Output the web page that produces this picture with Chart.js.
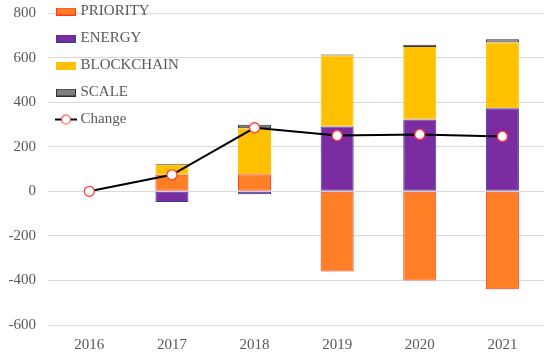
<!DOCTYPE html>
<html>
<head>
<meta charset="utf-8">
<script src="https://cdn.jsdelivr.net/npm/chart.js@4"></script>
<style>
  body { margin: 0; background: #fff; }
  #wrap { width: 550px; height: 356px; position: relative; }
</style>
</head>
<body>
<div id="wrap"><canvas id="chart"></canvas></div>
<script>
const years = ["2016", "2017", "2018", "2019", "2020", "2021"];
const priority = [null, 74, 77, -360, -400, -440];
const energy = [null, -48, -13, 291, 322, 373];
const blockchain = [null, 45, 206, 318, 325, 295];
const scaleVals = [null, 3, 15, 5, 10, 14];
const change = [0, 74, 285, 250, 255, 246];
const yTicks = [-600, -400, -200, 0, 200, 400, 600, 800];

const FONT = "Liberation Serif";
const TEXT = "#595959";
Chart.defaults.font.family = FONT;
Chart.defaults.font.size = 15;
Chart.defaults.color = TEXT;

// small canvases used as legend markers
function boxMarker(fill, stroke) {
  const c = document.createElement("canvas");
  c.width = 20; c.height = 8;
  const ctx = c.getContext("2d");
  ctx.fillStyle = fill;
  ctx.fillRect(0, 0, 20, 8);
  ctx.strokeStyle = stroke;
  ctx.lineWidth = 1;
  ctx.strokeRect(0.5, 0.5, 19, 7);
  return c;
}
function lineMarker() {
  const c = document.createElement("canvas");
  c.width = 22; c.height = 12;
  const ctx = c.getContext("2d");
  ctx.strokeStyle = "#000";
  ctx.lineWidth = 2;
  ctx.beginPath(); ctx.moveTo(0, 6); ctx.lineTo(22, 6); ctx.stroke();
  ctx.beginPath(); ctx.arc(11, 6, 4.5, 0, Math.PI * 2);
  ctx.fillStyle = "#fff"; ctx.fill();
  ctx.strokeStyle = "#ff4040"; ctx.lineWidth = 1.2; ctx.stroke();
  return c;
}
const markers = [
  boxMarker("#ff7f27", "#ff3b1f"),
  boxMarker("#7a2ca0", "#34409a"),
  boxMarker("#ffc000", "#ffc000"),
  boxMarker("#7f7f7f", "#303030"),
  lineMarker()
];

// put the legend at the top-left corner of the plot, first row above it
const legendPlace = {
  id: "legendPlace",
  afterLayout(chart) {
    const l = chart.legend;
    if (!l) return;
    const h = l.bottom - l.top;
    l.left = chart.chartArea.left - 1;
    l.top = -8;
    l.bottom = l.top + h;
  }
};

function bar(label, data, fill, border) {
  return {
    type: "bar", label: label, data: data,
    backgroundColor: fill, borderColor: border, borderWidth: 1,
    borderSkipped: false, barPercentage: 0.4, categoryPercentage: 1,
    order: 1
  };
}

new Chart(document.getElementById("chart"), {
  data: {
    labels: years,
    datasets: [
      bar("PRIORITY", priority, "#ff7f27", "#ff3b1f"),
      bar("ENERGY", energy, "#7a2ca0", "#34409a"),
      bar("BLOCKCHAIN", blockchain, "#ffc000", "#ffc000"),
      bar("SCALE", scaleVals, "#7f7f7f", "#303030"),
      {
        type: "line", label: "Change", data: change, stack: "change",
        borderColor: "#000", borderWidth: 2, tension: 0,
        pointRadius: 5, pointBorderWidth: 1.3,
        pointBackgroundColor: "#fff", pointBorderColor: "#ff4040",
        order: 0
      }
    ]
  },
  options: {
    responsive: true,
    maintainAspectRatio: false,
    animation: false,
    layout: { padding: { left: 7, right: 5, top: 0, bottom: 1 } },
    plugins: {
      tooltip: { enabled: false },
      legend: {
        position: "chartArea",
        align: "start",
        labels: {
          usePointStyle: true,
          pointStyleWidth: 14,
          padding: 12,
          color: TEXT,
          font: { family: FONT, size: 15 },
          sort: (a, b) => a.datasetIndex - b.datasetIndex,
          generateLabels(chart) {
            const items = Chart.defaults.plugins.legend.labels.generateLabels(chart);
            items.forEach((it) => { it.pointStyle = markers[it.datasetIndex]; });
            return items;
          }
        }
      }
    },
    scales: {
      x: {
        stacked: true,
        grid: { display: false, drawTicks: false },
        border: { display: false },
        ticks: { color: TEXT, font: { family: FONT, size: 15 }, padding: 11 },
        afterFit(axis) { axis.height = 30; }
      },
      y: {
        stacked: true,
        min: -600, max: 800,
        afterBuildTicks(axis) { axis.ticks = yTicks.map((v) => ({ value: v })); },
        grid: { color: "#d9d9d9", lineWidth: 1, drawTicks: false },
        border: { display: false },
        ticks: { color: TEXT, font: { family: FONT, size: 15 }, padding: 12 },
        afterFit(axis) { axis.width = 41; axis.paddingTop = 13; }
      }
    }
  },
  plugins: [legendPlace]
});
</script>
</body>
</html>
